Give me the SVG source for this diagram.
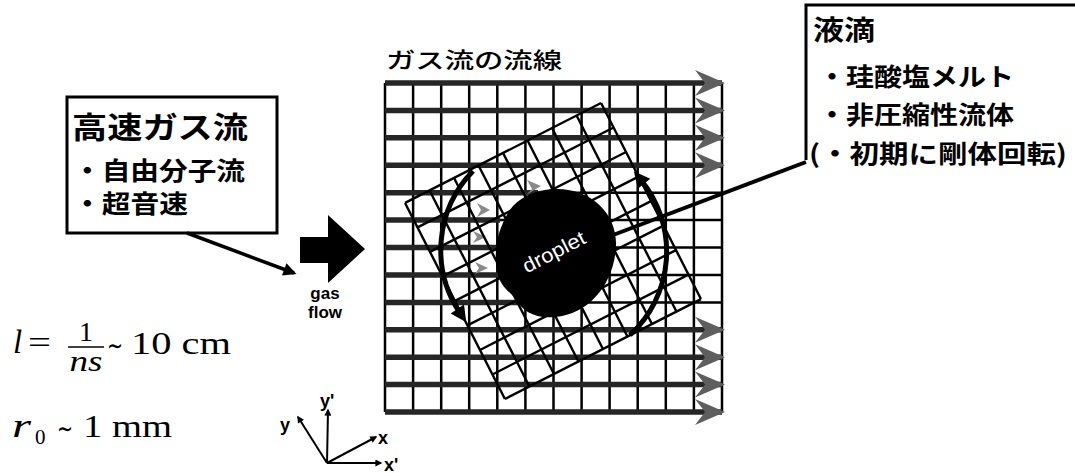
<svg xmlns="http://www.w3.org/2000/svg" width="1075" height="473" viewBox="0 0 1075 473">
  <style>
    .jp { font-family: "Noto Sans CJK JP", "Noto Sans", sans-serif; font-weight: 700; fill: #000; }
    .jpm { font-family: "Noto Sans CJK JP", "Noto Sans", sans-serif; font-weight: 500; fill: #000; }
    .sans { font-family: "Liberation Sans", Arial, sans-serif; font-weight: 700; fill: #000; }
    .math { font-family: "Liberation Serif", "DejaVu Serif", serif; fill: #000; }
    .it { font-style: italic; }
    .sim { font-family: "DejaVu Sans", sans-serif; }
    .grid { stroke: #000; stroke-width: 2.5; fill: none; }
    .stream { stroke: #262626; stroke-width: 5.5; fill: none; }
    .rgrid { stroke: #000; stroke-width: 2.4; fill: none; }
    .head { fill: #5e5e5e; }
    .faint { fill: #8a8a8a; }
    .box { fill: none; stroke: #000; stroke-width: 3; }
    .conn { stroke: #000; fill: none; }
  </style>
  <defs>
    <marker id="arcHead" viewBox="0 0 10 10" refX="3" refY="5" markerUnits="userSpaceOnUse" markerWidth="18" markerHeight="16" orient="auto">
      <path d="M0,0 L10,5 L0,10 z" fill="#000"/>
    </marker>
    <marker id="tip" viewBox="0 0 10 10" refX="8" refY="5" markerUnits="userSpaceOnUse" markerWidth="17" markerHeight="13" orient="auto">
      <path d="M0,0 L10,5 L0,10 z" fill="#000"/>
    </marker>
    <marker id="axisTip" viewBox="0 0 10 10" refX="8" refY="5" markerUnits="userSpaceOnUse" markerWidth="9" markerHeight="7" orient="auto">
      <path d="M0,0 L10,5 L0,10 z" fill="#000"/>
    </marker>
  </defs>

  <rect width="1075" height="473" fill="#fff"/>

  <!-- fixed lab grid -->
  <g id="grid">
    <path class="grid" d="M385 83V412 M413.1 83V412 M441.2 83V412 M469.2 83V412 M497.3 83V412 M525.4 83V412 M553.5 83V412 M581.6 83V412 M609.6 83V412 M637.7 83V412 M665.8 83V412 M693.9 83V412 M722 83V412"/>
    <path class="grid" d="M385 192.7H722 M385 220.1H722 M385 247.5H722 M385 274.9H722 M385 302.4H722"/>
  </g>

  <!-- gas streamlines -->
  <g id="streamlines">
    <path class="stream" d="M385 83H722 M385 110.4H722 M385 137.8H722 M385 165.3H722 M385 329.8H722 M385 357.2H722 M385 384.6H722 M385 412H722"/>
    <path class="stream" d="M385 192.7H538 M385 220.1H500 M385 247.5H497 M385 274.9H500 M385 302.4H518"/>
    <g class="head">
      <polygon points="725,83 695,70 705,83 695,96"/>
      <polygon points="725,110.4 695,97.4 705,110.4 695,123.4"/>
      <polygon points="725,137.8 695,124.8 705,137.8 695,150.8"/>
      <polygon points="725,165.3 695,152.3 705,165.3 695,178.3"/>
      <polygon points="725,329.8 695,316.8 705,329.8 695,342.8"/>
      <polygon points="725,357.2 695,344.2 705,357.2 695,370.2"/>
      <polygon points="725,384.6 695,371.6 705,384.6 695,397.6"/>
      <polygon points="725,412 695,399 705,412 695,425"/>
    </g>
    <g class="faint">
      <polygon points="541,186 527,180 532,189 526,195"/>
      <polygon points="490,210 477,203 481,210 477,217"/>
      <polygon points="486,237 473,231 477,237 473,243"/>
      <polygon points="488,268 475,262 479,268 475,274"/>
    </g>
  </g>

  <!-- grid attached to the droplet (rotated frame) -->
  <g id="rotated-grid" transform="translate(553 251) rotate(-27)">
    <path class="rgrid" d="M-110 -110V110 M-82.5 -110V110 M-55 -110V110 M-27.5 -110V110 M0 -110V110 M27.5 -110V110 M55 -110V110 M82.5 -110V110 M110 -110V110"/>
    <path class="rgrid" d="M-110 -110H110 M-110 -82.5H110 M-110 -55H110 M-110 -27.5H110 M-110 0H110 M-110 27.5H110 M-110 55H110 M-110 82.5H110 M-110 110H110"/>
  </g>

  <!-- droplet -->
  <g id="droplet">
    <path d="M553 189 C591 187 617 214 616 245 C615 281 591 314 555 317 C535 319 522 311 516 299 C509 291 499 286 497 270 C493 245 499 229 509 211 C519 197 535 190 553 189 Z" fill="#000"/>
    <text x="0" y="0" transform="translate(557 258) rotate(-27)" text-anchor="middle" font-family="'Liberation Sans', Arial, sans-serif" font-size="20" fill="#fff" textLength="68" lengthAdjust="spacingAndGlyphs">droplet</text>
  </g>

  <!-- rigid rotation arrows -->
  <g id="rotation" class="conn" stroke-width="5">
    <path d="M473 171 A113 113 0 0 0 460 313" marker-end="url(#arcHead)"/>
    <path d="M630 335 A113 113 0 0 0 641 180" marker-end="url(#arcHead)"/>
  </g>

  <!-- connectors -->
  <g id="connectors" class="conn">
    <line x1="592" y1="243" x2="806" y2="162" stroke-width="4"/>
    <line x1="187" y1="233" x2="294" y2="273" stroke-width="3.5" marker-end="url(#tip)"/>
  </g>

  <!-- high-speed gas flow box -->
  <g id="gas-box">
    <rect class="box" x="67" y="97" width="210" height="136"/>
    <text class="jp" x="72" y="138" font-size="30" textLength="176" lengthAdjust="spacingAndGlyphs">高速ガス流</text>
    <text class="jp" x="73" y="180" font-size="25" textLength="172" lengthAdjust="spacingAndGlyphs">・自由分子流</text>
    <text class="jp" x="73" y="213" font-size="25" textLength="115" lengthAdjust="spacingAndGlyphs">・超音速</text>
  </g>

  <!-- gas flow arrow -->
  <g id="gas-flow">
    <polygon points="300,237 328,237 328,215 365,249 328,283 328,263 300,263" fill="#000"/>
    <text class="sans" x="325" y="299" font-size="17" text-anchor="middle">gas</text>
    <text class="sans" x="325" y="318" font-size="17" text-anchor="middle">flow</text>
  </g>

  <!-- droplet properties box -->
  <g id="droplet-box">
    <path class="box" stroke-width="2.5" d="M1075 5H806V160"/>
    <text class="jp" x="813" y="40" font-size="27" textLength="62" lengthAdjust="spacingAndGlyphs">液滴</text>
    <text class="jp" x="818" y="86" font-size="25" textLength="196" lengthAdjust="spacingAndGlyphs">・珪酸塩メルト</text>
    <text class="jp" x="818" y="124" font-size="25" textLength="196" lengthAdjust="spacingAndGlyphs">・非圧縮性流体</text>
    <text class="jp" x="809" y="163" font-size="25" textLength="258" lengthAdjust="spacingAndGlyphs">(・初期に剛体回転)</text>
  </g>

  <!-- streamline caption -->
  <text id="streamline-title" class="jpm" x="386" y="68" font-size="22" textLength="176" lengthAdjust="spacingAndGlyphs">ガス流の流線</text>

  <!-- mean free path and droplet radius -->
  <g id="formulas" class="math">
    <text class="it" x="13" y="353" font-size="33">l</text>
    <text x="28" y="353" font-size="32" textLength="23" lengthAdjust="spacingAndGlyphs">=</text>
    <text x="86" y="341" font-size="28" text-anchor="middle">1</text>
    <line x1="68" y1="347" x2="104" y2="347" stroke="#000" stroke-width="1.6"/>
    <text class="it" x="86" y="371" font-size="29" text-anchor="middle" textLength="33" lengthAdjust="spacingAndGlyphs">ns</text>
    <text class="sim" x="107" y="355" font-size="28" textLength="16" lengthAdjust="spacingAndGlyphs">∼</text>
    <text x="131" y="354" font-size="32" textLength="100" lengthAdjust="spacingAndGlyphs">10 cm</text>
    <text class="it" x="12" y="437" font-size="33" textLength="19" lengthAdjust="spacingAndGlyphs">r</text>
    <text x="35" y="444" font-size="21">0</text>
    <text class="sim" x="57" y="438" font-size="28" textLength="16" lengthAdjust="spacingAndGlyphs">∼</text>
    <text x="83" y="437" font-size="32" textLength="89" lengthAdjust="spacingAndGlyphs">1 mm</text>
  </g>

  <!-- coordinate axes -->
  <g id="axes" class="conn" stroke-width="2">
    <line x1="327" y1="463" x2="328" y2="410" marker-end="url(#axisTip)"/>
    <line x1="327" y1="463" x2="298" y2="417" marker-end="url(#axisTip)"/>
    <line x1="327" y1="463" x2="376" y2="437" marker-end="url(#axisTip)"/>
    <line x1="327" y1="463" x2="381" y2="463" marker-end="url(#axisTip)"/>
  </g>
  <g id="axis-labels" class="sans" font-size="18">
    <text x="320" y="407">y'</text>
    <text x="280" y="431">y</text>
    <text x="378" y="444">x</text>
    <text x="384" y="471">x'</text>
  </g>
</svg>
